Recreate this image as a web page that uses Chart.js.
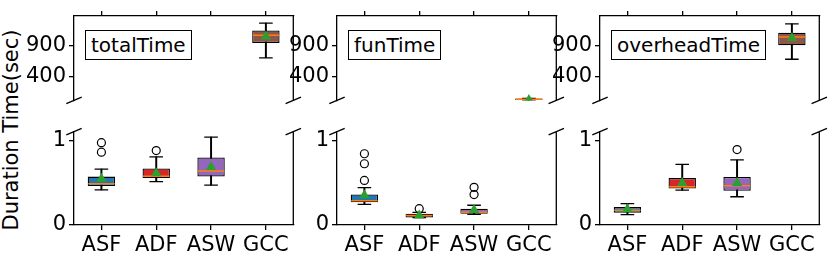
<!DOCTYPE html>
<html>
<head>
<meta charset="utf-8">
<script src="https://cdn.jsdelivr.net/npm/chart.js@4"></script>
<style>
  body { margin: 0; background: #fff; }
  #wrap { position: relative; width: 830px; height: 257px; overflow: hidden; font-family: "DejaVu Sans"; color: #000; }
  canvas { position: absolute; }
  .tag { position: absolute; top: 30px; height: 28px; line-height: 28px; padding: 0 5px; border: 1.5px solid #000; background: #fff; font-size: 20px; white-space: nowrap; z-index: 2; }
  #ylabel { position: absolute; left: 11px; top: 130px; transform: translate(-50%, -50%) rotate(-90deg); white-space: nowrap; font-size: 21px; }
</style>
</head>
<body>
<div id="wrap">
  <div id="ylabel">Duration Time(sec)</div>
</div>
<script>
const categories = ['ASF', 'ADF', 'ASW', 'GCC'];
const boxColors = ['#1f77b4', '#d62728', '#9467bd', '#8c564b'];

// totalTime
const totalLow = [0.418, 0.515, 0.474, 706];
const totalQ1 = [0.463, 0.560, 0.575, 946];
const totalMed = [0.489, 0.579, 0.642, 1071];
const totalQ3 = [0.575, 0.672, 0.803, 1150];
const totalHigh = [0.664, 0.810, 1.045, 1269];
const totalMean = [0.549, 0.616, 0.690, 1053];
const totalOutliers = [[0.866, 0.978], [0.885], [], []];

// funTime
const funLow = [0.246, 0.087, 0.127, 18];
const funQ1 = [0.269, 0.090, 0.134, 22];
const funMed = [0.288, 0.112, 0.153, 33];
const funQ3 = [0.362, 0.134, 0.194, 44];
const funHigh = [0.444, 0.149, 0.235, 46];
const funMean = [0.355, 0.112, 0.179, 20];
const funOutliers = [[0.530, 0.728, 0.847], [0.194], [0.362, 0.448], []];

// overheadTime
const overLow = [0.123, 0.414, 0.336, 682];
const overQ1 = [0.146, 0.433, 0.407, 908];
const overMed = [0.176, 0.455, 0.467, 1043];
const overQ3 = [0.213, 0.560, 0.571, 1112];
const overHigh = [0.254, 0.720, 0.773, 1256];
const overMean = [0.187, 0.500, 0.500, 1025];
const overOutliers = [[], [], [0.896], []];

const topTicks = [400, 900];
const bottomTicks = [0, 1];
const topRange = [15, 1390];
const bottomRange = [0, 1.11];
const splitAt = 5; // boxes above this (seconds) go on the upper half

const panels = [
  { name: 'totalTime', left: 74, low: totalLow, q1: totalQ1, med: totalMed, q3: totalQ3, high: totalHigh, mean: totalMean, outliers: totalOutliers },
  { name: 'funTime', left: 337, low: funLow, q1: funQ1, med: funMed, q3: funQ3, high: funHigh, mean: funMean, outliers: funOutliers },
  { name: 'overheadTime', left: 600, low: overLow, q1: overQ1, med: overMed, q3: overQ3, high: overHigh, mean: overMean, outliers: overOutliers }
];

Chart.defaults.font.family = 'DejaVu Sans';
Chart.defaults.font.size = 21;
Chart.defaults.color = '#000';

const LINE = 1.3;

// right spine + the little "//" break marks
const framePlugin = {
  id: 'frame',
  afterDraw(chart, args, opts) {
    const { ctx, chartArea: a } = chart;
    const y = opts.breakAt === 'bottom' ? a.bottom : a.top;
    ctx.save();
    ctx.strokeStyle = '#000';
    ctx.lineWidth = LINE;
    ctx.beginPath();
    ctx.moveTo(a.right, a.top);
    ctx.lineTo(a.right, a.bottom);
    [a.left, a.right].forEach(x => {
      ctx.moveTo(x - 7.7, y + 3.3);
      ctx.lineTo(x + 7.7, y - 3.3);
    });
    ctx.stroke();
    ctx.restore();
  }
};

function makeDatasets(p, isTop) {
  const keep = i => (p.q3[i] >= splitAt) === isTop;
  const points = vals => vals.map((v, i) => ({ x: categories[i], y: keep(i) ? v : null }));

  const caps = [...points(p.low), ...points(p.high)];
  const outl = [];
  p.outliers.forEach((list, i) => list.forEach(v => { if (keep(i)) outl.push({ x: categories[i], y: v }); }));

  const pts = { type: 'line', showLine: false, clip: 0, xAxisID: 'x', yAxisID: 'y' };

  return [
    { type: 'bar', clip: 0, xAxisID: 'x', yAxisID: 'y', data: p.low.map((v, i) => keep(i) ? [v, p.high[i]] : null),
      backgroundColor: '#000', borderWidth: 0, barThickness: LINE, grouped: false, order: 6 },
    { type: 'bar', clip: 0, xAxisID: 'x', yAxisID: 'y', data: p.q1.map((v, i) => keep(i) ? [v, p.q3[i]] : null),
      backgroundColor: boxColors, borderColor: '#000', borderWidth: LINE, borderSkipped: false,
      barPercentage: 0.5, categoryPercentage: 1, grouped: false, order: 5 },
    { ...pts, data: caps, pointStyle: 'line', pointRadius: 6.8,
      pointBorderColor: '#000', pointBorderWidth: LINE, order: 4 },
    { ...pts, data: points(p.med), pointStyle: 'line', pointRadius: 13.2,
      pointBorderColor: '#ff7f0e', pointBorderWidth: 1.5, order: 3 },
    { ...pts, data: outl, pointStyle: 'circle', pointRadius: 4,
      pointBorderColor: '#000', pointBackgroundColor: 'rgba(0,0,0,0)', pointBorderWidth: 1.2, order: 2 },
    { ...pts, data: points(p.mean), pointStyle: 'triangle', pointRadius: 6,
      pointBorderColor: '#2ca02c', pointBackgroundColor: '#2ca02c', pointBorderWidth: 0, order: 1 }
  ];
}

function makeChart(p, isTop) {
  const wrap = document.getElementById('wrap');
  const canvas = document.createElement('canvas');
  const h = isTop ? 116 : 141;
  canvas.width = 308;
  canvas.height = h;
  canvas.style.left = (p.left - 74) + 'px';
  canvas.style.top = (isTop ? 0 : 116) + 'px';
  wrap.appendChild(canvas);

  const range = isTop ? topRange : bottomRange;
  const yTicks = isTop ? topTicks : bottomTicks;

  new Chart(canvas, {
    type: 'bar',
    data: { labels: categories, datasets: makeDatasets(p, isTop) },
    options: {
      responsive: false,
      animation: false,
      events: [],
      layout: { padding: { left: 0, right: 14, top: isTop ? 0 : 10, bottom: isTop ? 9 : 0 } },
      plugins: { legend: { display: false }, tooltip: { enabled: false }, frame: { breakAt: isTop ? 'bottom' : 'top' } },
      scales: {
        x: {
          type: 'category',
          position: isTop ? 'top' : 'bottom',
          offset: true,
          grid: { display: true, drawOnChartArea: false, offset: false, tickLength: isTop ? 4.5 : 5, color: '#000', lineWidth: LINE },
          border: { display: true, color: '#000', width: LINE },
          ticks: { display: !isTop, padding: 3, maxRotation: 0, autoSkip: false },
          afterFit: s => { s.height = isTop ? 8 : 32; }
        },
        y: {
          type: 'linear',
          position: 'left',
          min: range[0],
          max: range[1],
          afterBuildTicks: s => { s.ticks = yTicks.map(v => ({ value: v })); },
          grid: { display: true, drawOnChartArea: false, tickLength: 5, color: '#000', lineWidth: LINE },
          border: { display: true, color: '#000', width: LINE },
          ticks: { padding: 3 },
          afterFit: s => { s.width = 74; }
        }
      }
    },
    plugins: [framePlugin]
  });

  if (isTop) {
    const tag = document.createElement('div');
    tag.className = 'tag';
    tag.style.left = (p.left + 11) + 'px';
    tag.textContent = p.name;
    wrap.appendChild(tag);
  }
}

panels.forEach(p => {
  makeChart(p, true);
  makeChart(p, false);
});
</script>
</body>
</html>
